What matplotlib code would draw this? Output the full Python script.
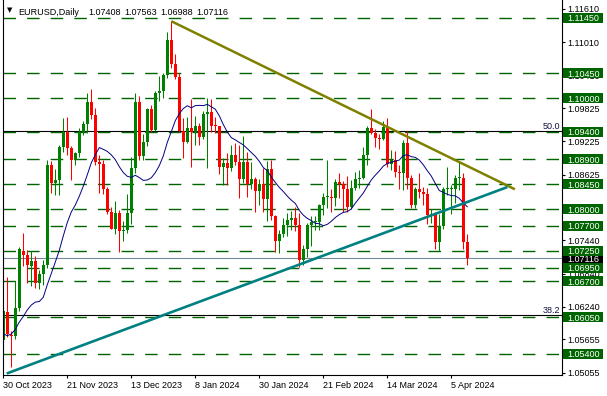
import matplotlib
matplotlib.use("Agg")
import matplotlib.pyplot as plt
from matplotlib.patches import Rectangle
import numpy as np
import pandas as pd

# EURUSD daily bars, 30 Oct 2023 .. 11 Apr 2024 (one entry per bar)
opens = [1.0564, 1.0614, 1.0574, 1.0571, 1.0622, 1.0725, 1.0717, 1.0698, 1.0707, 1.0667,
         1.0684, 1.0700, 1.0880, 1.0848, 1.0852, 1.0913, 1.0939, 1.0910, 1.0888, 1.0902,
         1.0940, 1.0954, 1.0993, 1.0970, 1.0886, 1.0882, 1.0836, 1.0796, 1.0764, 1.0793,
         1.0760, 1.0763, 1.0793, 1.0874, 1.0994, 1.0896, 1.0922, 1.0980, 1.0943, 1.1010,
         1.1013, 1.1042, 1.1105, 1.1062, 1.1039, 1.0941, 1.0921, 1.0946, 1.0940, 1.0951,
         1.0930, 1.0972, 1.0975, 1.0951, 1.0950, 1.0877, 1.0883, 1.0874, 1.0897, 1.0885,
         1.0855, 1.0885, 1.0846, 1.0854, 1.0833, 1.0845, 1.0818, 1.0873, 1.0788, 1.0743,
         1.0755, 1.0772, 1.0780, 1.0784, 1.0772, 1.0708, 1.0728, 1.0771, 1.0777, 1.0777,
         1.0808, 1.0822, 1.0823, 1.0820, 1.0850, 1.0845, 1.0836, 1.0805, 1.0838, 1.0855,
         1.0856, 1.0898, 1.0947, 1.0938, 1.0928, 1.0927, 1.0948, 1.0882, 1.0888, 1.0867,
         1.0865, 1.0920, 1.0856, 1.0808, 1.0837, 1.0831, 1.0827, 1.0790, 1.0792, 1.0741,
         1.0769, 1.0837, 1.0837, 1.0837, 1.0857, 1.0857, 1.07408]
highs = [1.0620, 1.0678, 1.0580, 1.0670, 1.0732, 1.0757, 1.0726, 1.0724, 1.0716, 1.0691,
         1.0709, 1.0888, 1.0887, 1.0872, 1.0915, 1.0965, 1.0966, 1.0914, 1.0904, 1.0946,
         1.0960, 1.1010, 1.1017, 1.0982, 1.0897, 1.0889, 1.0841, 1.0805, 1.0815, 1.0799,
         1.0778, 1.0828, 1.0895, 1.1009, 1.1004, 1.0936, 1.0983, 1.0988, 1.1013, 1.1040,
         1.1045, 1.1120, 1.1139, 1.1079, 1.1045, 1.0965, 1.0966, 1.0998, 1.0969, 1.0955,
         1.0977, 1.1000, 1.0999, 1.0966, 1.0951, 1.0893, 1.0902, 1.0915, 1.0920, 1.0916,
         1.0932, 1.0903, 1.0885, 1.0858, 1.0855, 1.0875, 1.0887, 1.0888, 1.0790, 1.0763,
         1.0785, 1.0793, 1.0797, 1.0805, 1.0794, 1.0735, 1.0775, 1.0788, 1.0787, 1.0810,
         1.0829, 1.0888, 1.0836, 1.0854, 1.0865, 1.0851, 1.0860, 1.0852, 1.0868, 1.0870,
         1.0912, 1.0950, 1.0981, 1.0945, 1.0935, 1.0959, 1.0964, 1.0907, 1.0905, 1.0880,
         1.0924, 1.0942, 1.0862, 1.0841, 1.0865, 1.0841, 1.0839, 1.0800, 1.0795, 1.0791,
         1.0840, 1.0877, 1.0843, 1.0862, 1.0885, 1.0866, 1.07563]
lows = [1.0546, 1.0570, 1.0516, 1.0566, 1.0617, 1.0698, 1.0667, 1.0662, 1.0658, 1.0656,
        1.0664, 1.0695, 1.0830, 1.0826, 1.0826, 1.0904, 1.0898, 1.0852, 1.0880, 1.0895,
        1.0934, 1.0937, 1.0962, 1.0880, 1.0829, 1.0828, 1.0792, 1.0764, 1.0756, 1.0723,
        1.0742, 1.0758, 1.0773, 1.0865, 1.0888, 1.0888, 1.0914, 1.0940, 1.0941, 1.0995,
        1.1000, 1.1037, 1.1055, 1.1034, 1.0940, 1.0892, 1.0920, 1.0877, 1.0915, 1.0916,
        1.0926, 1.0875, 1.0940, 1.0937, 1.0863, 1.0844, 1.0844, 1.0869, 1.0880, 1.0821,
        1.0848, 1.0822, 1.0836, 1.0795, 1.0807, 1.0795, 1.0779, 1.0781, 1.0723, 1.0722,
        1.0750, 1.0752, 1.0762, 1.0761, 1.0696, 1.0700, 1.0714, 1.0733, 1.0762, 1.0762,
        1.0790, 1.0802, 1.0796, 1.0806, 1.0821, 1.0796, 1.0796, 1.0801, 1.0834, 1.0838,
        1.0854, 1.0880, 1.0935, 1.0913, 1.0908, 1.0924, 1.0876, 1.0870, 1.0858, 1.0836,
        1.0834, 1.0836, 1.0802, 1.0802, 1.0820, 1.0808, 1.0774, 1.0776, 1.0729, 1.0724,
        1.0764, 1.0825, 1.0792, 1.0812, 1.0835, 1.0728, 1.06988]
closes = [1.0616, 1.0575, 1.0571, 1.0622, 1.0728, 1.0717, 1.0700, 1.0707, 1.0667, 1.0684,
          1.0700, 1.0880, 1.0848, 1.0852, 1.0913, 1.0939, 1.0910, 1.0888, 1.0902, 1.0940,
          1.0954, 1.0993, 1.0970, 1.0886, 1.0882, 1.0836, 1.0796, 1.0764, 1.0793, 1.0760,
          1.0763, 1.0793, 1.0874, 1.0994, 1.0896, 1.0922, 1.0980, 1.0943, 1.1010, 1.1013,
          1.1042, 1.1105, 1.1062, 1.1039, 1.0941, 1.0921, 1.0946, 1.0940, 1.0951, 1.0930,
          1.0972, 1.0975, 1.0951, 1.0950, 1.0877, 1.0883, 1.0874, 1.0897, 1.0885, 1.0855,
          1.0885, 1.0846, 1.0854, 1.0833, 1.0845, 1.0818, 1.0873, 1.0788, 1.0743, 1.0755,
          1.0772, 1.0780, 1.0784, 1.0772, 1.0708, 1.0728, 1.0771, 1.0777, 1.0777, 1.0808,
          1.0822, 1.0823, 1.0820, 1.0850, 1.0845, 1.0836, 1.0805, 1.0838, 1.0855, 1.0856,
          1.0898, 1.0947, 1.0938, 1.0928, 1.0927, 1.0948, 1.0882, 1.0888, 1.0867, 1.0865,
          1.0920, 1.0856, 1.0808, 1.0837, 1.0831, 1.0827, 1.0790, 1.0792, 1.0741, 1.0769,
          1.0837, 1.0837, 1.0837, 1.0857, 1.0857, 1.0741, 1.07116]
# closes of the 13 bars before the window, needed by the 14-period SMA
pre_close = [1.0620, 1.0528, 1.0508, 1.0540, 1.0576, 1.0536, 1.0583, 1.0593, 1.0670,
             1.0590, 1.0565, 1.0564, 1.0566]
MA_PERIOD = 14

date_idx = [0, 16, 32, 48, 64, 80, 96, 112]
date_labels = ["30 Oct 2023", "21 Nov 2023", "13 Dec 2023", "8 Jan 2024",
               "30 Jan 2024", "21 Feb 2024", "14 Mar 2024", "5 Apr 2024"]

price_ticks = [1.11610, 1.11010, 1.10410, 1.09825, 1.09225, 1.08625, 1.08040,
               1.07440, 1.06840, 1.06240, 1.05655, 1.05055]
# 1.08040 sits fully under the 1.08000 box in the reference, so its text is left blank
price_tick_labels = ["1.11610", "1.11010", "1.10410", "1.09825", "1.09225", "1.08625", "",
                     "1.07440", "1.06840", "1.06240", "1.05655", "1.05055"]
levels = [1.11450, 1.10450, 1.10000, 1.09400, 1.08900, 1.08450, 1.08000,
          1.07700, 1.07250, 1.06950, 1.06700, 1.06050, 1.05400]
fib_levels = [1.0941, 1.0609]
fib_names = ["50.0", "38.2"]
last_price = 1.07116

# trend lines: (bar index, price) anchors
res_x = [42, 127.9]
res_y = [1.1139, 1.0836]
sup_x = [0.85, 126.0]
sup_y = [1.0504, 1.0840]

title_sym = "EURUSD,Daily"
title_ohlc = ["1.07408", "1.07563", "1.06988", "1.07116"]

# ---- layout (pixel based, figure is 607 x 396) ----
W, H = 607, 396
AX_L, AX_R, AX_T, AX_B = 2.5, 562.0, 0.0, 375.0
PX_PER_BAR = 4.0
BAR0_PX = 3.3
PX_PER_UNIT = 5548.0
REF_PRICE, REF_PX = 1.11610, 9.0

GREEN = "#006400"
FS = 6.5

plt.rcParams["font.family"] = ["Liberation Sans", "DejaVu Sans"]
plt.rcParams["lines.scale_dashes"] = False


def ax_frac(px):
    return (px - AX_L) / (AX_R - AX_L)


def main() -> None:
    o = np.array(opens)
    h = np.array(highs)
    l = np.array(lows)
    c = np.array(closes)
    x = np.arange(len(c))

    fig = plt.figure(figsize=(W / 100, H / 100), dpi=100)
    ax = fig.add_axes([AX_L / W, 1 - AX_B / H, (AX_R - AX_L) / W, (AX_B - AX_T) / H])

    ax.set_xlim((AX_L - BAR0_PX) / PX_PER_BAR, (AX_R - BAR0_PX) / PX_PER_BAR)
    ax.set_ylim(REF_PRICE - (AX_B - REF_PX) / PX_PER_UNIT,
                REF_PRICE + (REF_PX - AX_T) / PX_PER_UNIT)

    # fib lines and horizontal levels
    for fv in fib_levels:
        ax.axhline(fv, color="black", lw=0.8, zorder=1)
    for lv in levels:
        ax.axhline(lv, color=GREEN, lw=1.0, ls=(0, (9.0, 8.0)), zorder=1.1)
    ax.axhline(last_price, color="#778899", lw=0.8, zorder=1.2)

    # candles
    bull = c >= o
    cols = np.where(bull, "#008000", "#ff0000")
    ax.vlines(x, l, h, colors=cols, lw=0.75, zorder=2)
    body = np.maximum(np.abs(c - o), 0.00016)
    ax.bar(x, body, bottom=np.minimum(o, c), width=0.72, color=cols,
           linewidth=0, zorder=2.1)

    # moving average
    ma = pd.Series(pre_close + closes).rolling(MA_PERIOD).mean().to_numpy()[len(pre_close):]
    ax.plot(x, ma, color="#000080", lw=0.7, zorder=3)

    # trend lines
    ax.plot(res_x, res_y, color="#808000", lw=1.8, zorder=4, solid_capstyle="butt")
    ax.plot(sup_x, sup_y, color="#008080", lw=1.9, zorder=4, solid_capstyle="butt")

    # fib labels
    for fv, name in zip(fib_levels, fib_names):
        ax.text(ax_frac(560), fv + 1.8 / PX_PER_UNIT, name, transform=ax.get_yaxis_transform(),
                ha="right", va="baseline", fontsize=FS, color="#101040", zorder=5)

    # spines
    for s in ("left", "bottom", "right"):
        ax.spines[s].set_color("black")
        ax.spines[s].set_linewidth(0.8)
    ax.spines["top"].set_visible(False)

    # price axis on the right
    ax.yaxis.tick_right()
    ax.set_yticks(price_ticks)
    ax.set_yticklabels(price_tick_labels)
    ax.tick_params(axis="y", length=2.2, width=0.8, pad=1.5, labelsize=FS, colors="black")

    # date axis
    ax.set_xticks(date_idx)
    ax.set_xticklabels(date_labels)
    for lbl in ax.get_xticklabels():
        lbl.set_ha("left")
    ax.tick_params(axis="x", length=2.0, width=0.8, pad=2.0, labelsize=FS, colors="black")

    # price boxes on the axis
    tr = ax.get_yaxis_transform()
    box_h = 10 / PX_PER_UNIT
    box_x0, box_w = ax_frac(563), 40 / (AX_R - AX_L)
    ax.add_patch(Rectangle((box_x0, last_price - box_h / 2), box_w, box_h, transform=tr,
                           facecolor="black", edgecolor="none", clip_on=False, zorder=8))
    ax.text(ax_frac(583.5), last_price, f"{last_price:.5f}", transform=tr, ha="center",
            va="center_baseline", fontsize=FS, color="white", clip_on=False, zorder=8.5)
    for lv in levels:
        ax.add_patch(Rectangle((box_x0, lv - box_h / 2), box_w, box_h, transform=tr,
                               facecolor=GREEN, edgecolor="none", clip_on=False, zorder=9))
        ax.text(ax_frac(583.5), lv, f"{lv:.5f}", transform=tr, ha="center",
                va="center_baseline", fontsize=FS, color="white", clip_on=False, zorder=9.5)

    # header line
    fig.text(9.5 / W, 1 - 10.5 / H, "\u25bc", family="DejaVu Sans", fontsize=5,
             ha="center", va="center", color="black")
    fig.text(18.3 / W, 1 - 15 / H, title_sym, fontsize=FS, va="baseline", color="black")
    for px, s in zip([88.3, 124.3, 160.0, 196.0], title_ohlc):
        fig.text(px / W, 1 - 15 / H, s, fontsize=FS, va="baseline", color="black")

    fig.savefig("out.png", dpi=100)
    plt.close(fig)


if __name__ == "__main__":
    main()
